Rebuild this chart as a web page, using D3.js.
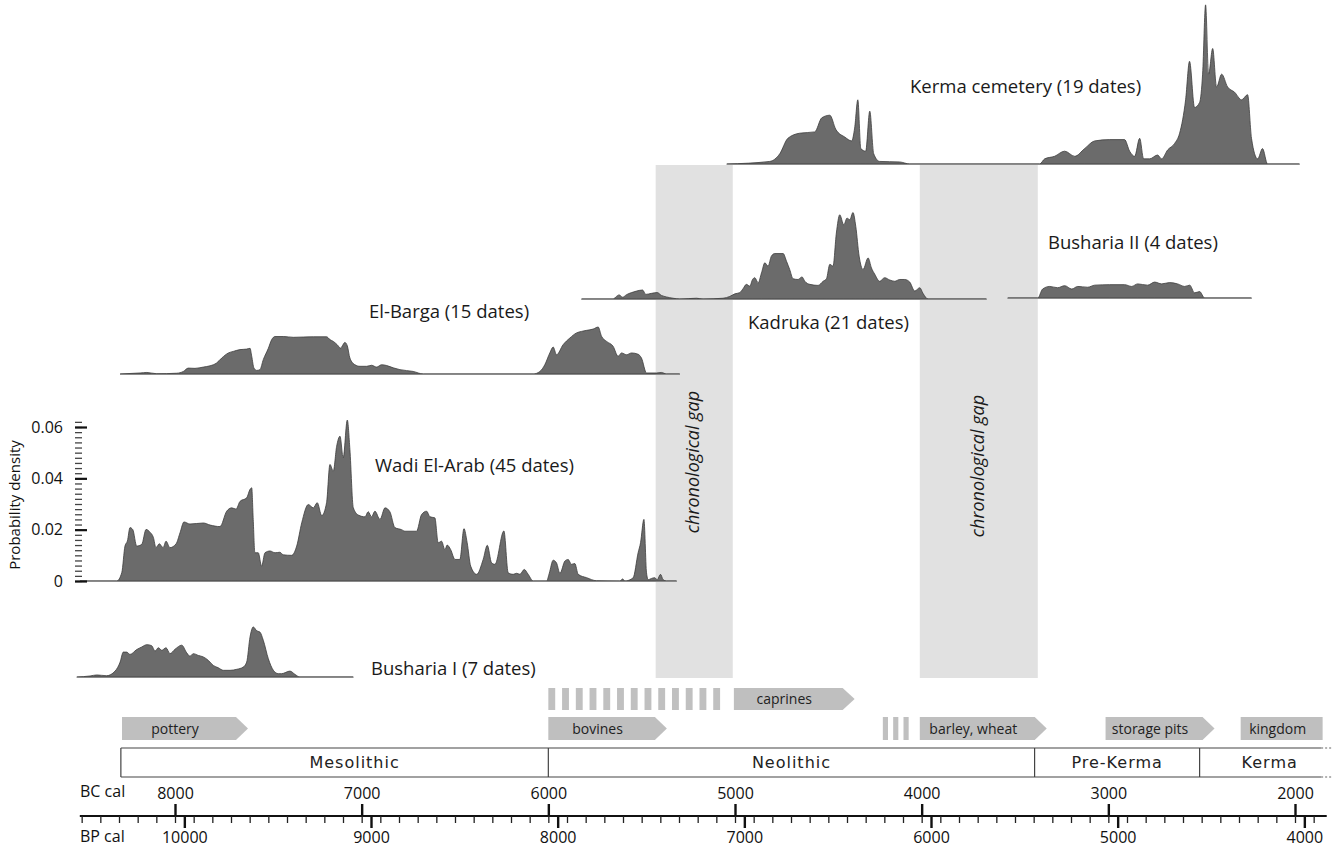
<!DOCTYPE html>
<html>
<head>
<meta charset="utf-8">
<script src="https://cdn.jsdelivr.net/npm/d3@7"></script>
<style>
  body { margin: 0; background: #fff; }
  svg { display: block; font-family: 'Open Sans', sans-serif; }
</style>
</head>
<body>
<div id="visual"></div>
<script>
// summed probability curves, [year BC cal, probability density]
const kermaCemetery = [
  [5044, 0], [4814, 0.001], [4760, 0.004], [4717, 0.01], [4653, 0.012], [4573, 0.0125],
  [4535, 0.018], [4492, 0.019], [4460, 0.0135], [4412, 0.0105], [4375, 0.009], [4359, 0.014],
  [4342, 0.025], [4326, 0.006], [4300, 0.005], [4278, 0.0206], [4257, 0.004], [4225, 0.001],
  [4118, 0.0008], [4064, 0], [3368, 0], [3341, 0.002], [3288, 0.003], [3234, 0.005],
  [3180, 0.003], [3127, 0.006], [3073, 0.009], [2993, 0.0095], [2913, 0.0095], [2886, 0.005],
  [2859, 0.003], [2832, 0.01], [2811, 0.002], [2779, 0.002], [2736, 0.0035], [2715, 0.002],
  [2682, 0.0055], [2645, 0.008], [2618, 0.012], [2586, 0.025], [2565, 0.04], [2538, 0.022],
  [2511, 0.024], [2495, 0.035], [2479, 0.062], [2463, 0.035], [2441, 0.045], [2420, 0.03],
  [2393, 0.035], [2361, 0.03], [2324, 0.028], [2286, 0.025], [2254, 0.027], [2233, 0.01],
  [2200, 0.002], [2174, 0.006], [2147, 0], [1976, 0],
];

const kadruka = [
  [5822, 0], [5653, 0], [5635, 0.001], [5621, 0.0016], [5602, 0.0007], [5581, 0.0017],
  [5554, 0.0025], [5527, 0.0031], [5495, 0.0035], [5478, 0.0018], [5447, 0.0022], [5417, 0.0025],
  [5394, 0.0014], [5367, 0.0008], [5332, 0.0003], [5296, 0], [5206, 0.0003], [5171, 0],
  [5064, 0.0003], [5028, 0.001], [5001, 0.002], [4974, 0.0025], [4957, 0.004], [4939, 0.0057],
  [4921, 0.005], [4906, 0.0076], [4894, 0.0083], [4876, 0.0063], [4858, 0.0102], [4840, 0.0141],
  [4823, 0.0128], [4805, 0.0167], [4787, 0.0177], [4742, 0.0177], [4724, 0.0147], [4707, 0.0115],
  [4689, 0.0079], [4662, 0.0076], [4641, 0.0086], [4626, 0.0069], [4599, 0.0057], [4555, 0.0053],
  [4528, 0.0069], [4510, 0.0079], [4492, 0.0135], [4475, 0.0128], [4457, 0.0257], [4439, 0.0328],
  [4417, 0.0289], [4400, 0.0315], [4385, 0.0309], [4368, 0.0337], [4353, 0.0283], [4335, 0.0167],
  [4314, 0.0115], [4287, 0.016], [4269, 0.0121], [4251, 0.0096], [4225, 0.0069], [4198, 0.0083],
  [4171, 0.0074], [4144, 0.0069], [4118, 0.0076], [4091, 0.0076], [4064, 0.0066], [4037, 0.0031],
  [4010, 0.0044], [3993, 0.0022], [3966, 0], [3653, 0],
];

const bushariaII = [
  [3539, 0], [3378, 0], [3352, 0.0035], [3314, 0.0045], [3272, 0.004], [3234, 0.0048],
  [3196, 0.0035], [3164, 0.0045], [3111, 0.0042], [3073, 0.005], [2993, 0.0052], [2913, 0.0052],
  [2875, 0.0045], [2843, 0.0055], [2789, 0.005], [2752, 0.0062], [2714, 0.0055], [2672, 0.006],
  [2629, 0.0055], [2591, 0.0045], [2564, 0.005], [2538, 0.002], [2511, 0.0025], [2484, 0],
  [2233, 0],
];

const elBarga = [
  [8294, 0], [8187, 0.0004], [8151, 0.0006], [8098, 0.0001], [7991, 0.0003], [7955, 0.001],
  [7929, 0.0023], [7893, 0.0022], [7848, 0.0027], [7812, 0.0032], [7777, 0.0043], [7750, 0.0062],
  [7714, 0.0082], [7688, 0.0088], [7652, 0.0095], [7616, 0.0097], [7598, 0.01], [7589, 0.0069],
  [7577, 0.0023], [7562, 0.0014], [7545, 0.0017], [7527, 0.0056], [7500, 0.01], [7482, 0.0134],
  [7464, 0.0146], [7420, 0.0146], [7366, 0.0143], [7313, 0.0144], [7259, 0.0145], [7188, 0.0145],
  [7170, 0.0134], [7152, 0.0127], [7131, 0.0114], [7113, 0.0101], [7090, 0.0123], [7077, 0.011],
  [7063, 0.0062], [7036, 0.0036], [7009, 0.003], [6973, 0.003], [6947, 0.0034], [6920, 0.0027],
  [6893, 0.0036], [6866, 0.0033], [6831, 0.0024], [6795, 0.0017], [6724, 0.001], [6670, 0],
  [6081, 0], [6045, 0.001], [6019, 0.0036], [5992, 0.0082], [5974, 0.0105], [5956, 0.0075],
  [5921, 0.0114], [5885, 0.014], [5849, 0.016], [5822, 0.0166], [5795, 0.017], [5760, 0.0175],
  [5733, 0.0183], [5715, 0.0147], [5688, 0.0127], [5653, 0.0108], [5626, 0.0069], [5608, 0.0082],
  [5581, 0.0075], [5554, 0.0082], [5519, 0.0077], [5501, 0.0062], [5474, 0.0004], [5420, 0.0004],
  [5394, 0.0006], [5367, 0], [5296, 0],
];

const wadiElArab = [
  [8509, 0], [8312, 0], [8285, 0.0033], [8268, 0.0136], [8255, 0.0156], [8241, 0.0208],
  [8226, 0.02], [8205, 0.0136], [8178, 0.0143], [8155, 0.0201], [8134, 0.019], [8116, 0.017],
  [8102, 0.013], [8084, 0.0145], [8064, 0.013], [8048, 0.0155], [8027, 0.013], [7994, 0.0145],
  [7973, 0.0188], [7952, 0.023], [7920, 0.0222], [7848, 0.0226], [7812, 0.0218], [7759, 0.0212],
  [7723, 0.0272], [7696, 0.0285], [7673, 0.028], [7652, 0.031], [7616, 0.0324], [7598, 0.0357],
  [7589, 0.0363], [7581, 0.024], [7572, 0.011], [7554, 0.011], [7536, 0.0058], [7518, 0.011],
  [7491, 0.0117], [7464, 0.011], [7438, 0.0112], [7420, 0.0102], [7375, 0.01], [7348, 0.0136],
  [7321, 0.0227], [7286, 0.0298], [7259, 0.0285], [7238, 0.0305], [7214, 0.0255], [7188, 0.0305],
  [7170, 0.0454], [7152, 0.0428], [7134, 0.0525], [7116, 0.0564], [7099, 0.048], [7077, 0.0627],
  [7063, 0.0512], [7045, 0.0286], [7018, 0.0257], [6982, 0.025], [6965, 0.027], [6947, 0.025],
  [6929, 0.0272], [6902, 0.024], [6875, 0.0285], [6849, 0.027], [6822, 0.0208], [6786, 0.02],
  [6768, 0.0194], [6706, 0.0194], [6679, 0.0259], [6652, 0.0272], [6634, 0.025], [6608, 0.0246],
  [6590, 0.0149], [6572, 0.0155], [6554, 0.0122], [6542, 0.014], [6523, 0.0122], [6500, 0.0084],
  [6474, 0.0084], [6452, 0.0204], [6435, 0.015], [6416, 0.0058], [6384, 0.0026], [6349, 0.0084],
  [6327, 0.0139], [6304, 0.0071], [6286, 0.0065], [6238, 0.0195], [6215, 0.0032], [6188, 0.0026],
  [6170, 0.003], [6152, 0.0026], [6129, 0.0045], [6108, 0.0026], [6081, 0], [6009, 0],
  [5995, 0.003], [5974, 0.0081], [5956, 0.007], [5938, 0.003], [5911, 0.0078], [5894, 0.0084],
  [5876, 0.0065], [5858, 0.0068], [5840, 0.0026], [5795, 0.0013], [5742, 0.0001], [5617, 0],
  [5602, 0.0008], [5590, 0], [5546, 0.0012], [5519, 0.011], [5506, 0.0149], [5488, 0.024],
  [5474, 0.0032], [5465, 0.0005], [5447, 0.001], [5430, 0.0013], [5417, 0.0005], [5399, 0.0026],
  [5385, 0.0005], [5367, 0], [5313, 0],
];

const bushariaI = [
  [8526, 0], [8455, 0.0004], [8419, 0.0008], [8366, 0.0005], [8321, 0.0023], [8294, 0.0058],
  [8277, 0.0097], [8259, 0.0097], [8241, 0.0088], [8205, 0.0107], [8178, 0.0117], [8151, 0.0126],
  [8125, 0.0122], [8107, 0.0101], [8089, 0.0114], [8071, 0.0104], [8048, 0.0114], [8027, 0.0091],
  [8000, 0.0108], [7964, 0.0124], [7937, 0.0094], [7920, 0.0081], [7902, 0.0091], [7875, 0.0084],
  [7848, 0.0078], [7822, 0.0065], [7795, 0.0045], [7768, 0.0036], [7741, 0.0026], [7705, 0.0026],
  [7669, 0.003], [7634, 0.0039], [7616, 0.0058], [7598, 0.0156], [7581, 0.0195], [7562, 0.018],
  [7545, 0.0175], [7527, 0.0143], [7500, 0.0071], [7473, 0.0026], [7447, 0.0013], [7429, 0.0013],
  [7384, 0.0023], [7357, 0.001], [7331, 0], [7045, 0],
];

// chronological gaps [from, to] BC
const gapSpans = [[5425, 5012], [4010, 3378]];

// periods
const periodNames = ['Mesolithic', 'Neolithic', 'Pre-Kerma', 'Kerma'];
const periodBounds = [8290, 6000, 3395, 2511, 1760];

// economy arrows: name, from, to, row
const arrowNames = ['pottery', 'bovines', 'caprines', 'barley, wheat', 'storage pits', 'kingdom'];
const arrowFrom = [8284, 6000, 5006, 4010, 3015, 2291];
const arrowTo = [7609, 5365, 4359, 3330, 2431, 1852];
const arrowRow = [1, 1, 0, 1, 1, 1];
// hatched (uncertain) lead-ins: from, to, row, count
const hatchFrom = [6000, 4208];
const hatchTo = [5043, 4042];
const hatchRow = [0, 1];
const hatchCount = [13, 3];

const bcTicks = [8000, 7000, 6000, 5000, 4000, 3000, 2000];
const bpTicks = [10000, 9000, 8000, 7000, 6000, 5000, 4000];
const densTicks = [0, 0.02, 0.04, 0.06];

function render() {
  const width = 1332;
  const height = 847;

  const svg = d3.select('#visual').append('svg')
    .attr('width', width)
    .attr('height', height);

  const x = d3.scaleLinear().domain([8000, 2000]).range([175, 1295]);
  // BP scale as drawn in the original (offset against BC)
  const xBP = d3.scaleLinear().domain([10050, 4050]).range([175, 1295]);
  const dens = d3.scaleLinear().domain([0, 0.06]).range([0, 154]);

  // gap bands behind everything
  svg.selectAll('.gap')
    .data(gapSpans)
    .enter().append('rect')
    .attr('class', 'gap')
    .attr('x', d => x(d[0]))
    .attr('width', d => x(d[1]) - x(d[0]))
    .attr('y', 165)
    .attr('height', 513)
    .attr('fill', '#e1e1e1');

  svg.selectAll('.gaplabel')
    .data(gapSpans)
    .enter().append('text')
    .attr('transform', (d, i) => `translate(${(x(d[0]) + x(d[1])) / 2 + 5},${i === 0 ? 462 : 466}) rotate(-90)`)
    .attr('text-anchor', 'middle')
    .attr('font-size', 18)
    .attr('font-style', 'italic')
    .attr('fill', '#1a1a1a')
    .text('chronological gap');

  const tracks = [
    { data: kermaCemetery, base: 164, label: 'Kerma cemetery (19 dates)', lx: 910, ly: 93 },
    { data: kadruka, base: 299, label: 'Kadruka (21 dates)', lx: 748, ly: 329 },
    { data: bushariaII, base: 298, label: 'Busharia II (4 dates)', lx: 1048, ly: 249 },
    { data: elBarga, base: 374, label: 'El-Barga (15 dates)', lx: 369, ly: 318 },
    { data: wadiElArab, base: 581, label: 'Wadi El-Arab (45 dates)', lx: 375, ly: 472 },
    { data: bushariaI, base: 677, label: 'Busharia I (7 dates)', lx: 371, ly: 675 },
  ];

  tracks.forEach((t) => {
    const area = d3.area()
      .x(d => x(d[0]))
      .y0(t.base)
      .y1(d => t.base - dens(d[1]))
      .curve(d3.curveMonotoneX);

    svg.append('path')
      .datum(t.data)
      .attr('d', area)
      .attr('fill', '#6b6b6b')
      .attr('stroke', '#3c3c3c')
      .attr('stroke-width', 0.8);

    svg.append('line')
      .attr('x1', x(t.data[0][0]))
      .attr('x2', x(t.data[t.data.length - 1][0]))
      .attr('y1', t.base + 0.5)
      .attr('y2', t.base + 0.5)
      .attr('stroke', '#8a8a8a')
      .attr('stroke-width', 1);

    svg.append('text')
      .attr('x', t.lx)
      .attr('y', t.ly)
      .attr('font-size', 18.5)
      .attr('fill', '#1a1a1a')
      .text(t.label);
  });

  // density axis
  const yAxisScale = d3.scaleLinear().domain([0, 0.06]).range([581, 427]);
  svg.append('g')
    .attr('transform', 'translate(82,0)')
    .call(d3.axisLeft(yAxisScale).tickValues(d3.range(0, 0.0621, 0.002)).tickSize(7).tickFormat(''))
    .call(g => g.select('.domain').remove())
    .call(g => g.selectAll('line').attr('stroke', '#444').attr('stroke-width', 1.3));

  svg.append('g')
    .attr('transform', 'translate(87,0)')
    .call(d3.axisLeft(yAxisScale).tickValues(densTicks).tickSize(12).tickPadding(12)
      .tickFormat(d => (d === 0 ? '0' : d3.format('.2f')(d))))
    .call(g => g.select('.domain').remove())
    .call(g => g.selectAll('line').attr('stroke', '#111').attr('stroke-width', 2.2))
    .call(g => g.selectAll('text').attr('font-size', 16).attr('font-family', 'Open Sans').attr('fill', '#111'));

  svg.append('text')
    .attr('transform', 'translate(20,505) rotate(-90)')
    .attr('text-anchor', 'middle')
    .attr('font-size', 15)
    .attr('fill', '#111')
    .text('Probability density');

  // hatched lead-ins
  const rowY = [688, 717];
  const rowH = [22, 23];
  hatchFrom.forEach((h, i) => {
    const x0 = x(h);
    const x1 = x(hatchTo[i]);
    const step = (x1 - x0) / hatchCount[i];
    svg.selectAll(null)
      .data(d3.range(hatchCount[i]))
      .enter().append('rect')
      .attr('x', k => x0 + k * step)
      .attr('width', step * 0.5)
      .attr('y', rowY[hatchRow[i]])
      .attr('height', rowH[hatchRow[i]])
      .attr('fill', '#c0c0c0');
  });

  // arrows
  arrowNames.forEach((name, i) => {
    const x0 = x(arrowFrom[i]);
    const x1 = x(arrowTo[i]);
    const y0 = rowY[arrowRow[i]];
    const y1 = y0 + rowH[arrowRow[i]];
    const tip = name === 'kingdom' ? 0 : 12;
    const pts = [[x0, y0], [x1 - tip, y0], [x1, (y0 + y1) / 2], [x1 - tip, y1], [x0, y1]];
    svg.append('polygon')
      .attr('points', pts.map(p => p.join(',')).join(' '))
      .attr('fill', '#bfbfbf');
    svg.append('text')
      .attr('x', (x0 + x1 - tip) / 2 - 4)
      .attr('y', (y0 + y1) / 2 + 5)
      .attr('text-anchor', 'middle')
      .attr('font-size', 14)
      .attr('font-family', "'Liberation Sans Narrow', 'Open Sans', sans-serif")
      .attr('fill', '#222')
      .text(name);
  });

  // period box
  const boxTop = 748;
  const boxBottom = 777;
  const solidEnd = x(1860);
  [boxTop, boxBottom].forEach((yy) => {
    svg.append('line')
      .attr('x1', x(periodBounds[0])).attr('x2', solidEnd)
      .attr('y1', yy).attr('y2', yy)
      .attr('stroke', '#444').attr('stroke-width', 1.2);
    svg.append('line')
      .attr('x1', solidEnd).attr('x2', x(1760))
      .attr('y1', yy).attr('y2', yy)
      .attr('stroke', '#666').attr('stroke-width', 1.2)
      .attr('stroke-dasharray', '2,2');
  });
  periodBounds.slice(0, 4).forEach((b) => {
    svg.append('line')
      .attr('x1', x(b)).attr('x2', x(b))
      .attr('y1', boxTop).attr('y2', boxBottom)
      .attr('stroke', '#444').attr('stroke-width', 1.2);
  });
  periodNames.forEach((name, i) => {
    svg.append('text')
      .attr('x', (x(periodBounds[i]) + x(periodBounds[i + 1])) / 2 + (i === 0 ? 20 : 0))
      .attr('y', 768)
      .attr('text-anchor', 'middle')
      .attr('font-size', 16)
      .attr('font-family', 'DejaVu Sans')
      .attr('letter-spacing', 1)
      .attr('fill', '#222')
      .text(name);
  });

  // time axis
  const axisY = 816;
  svg.append('line')
    .attr('x1', x(8510)).attr('x2', x(1830))
    .attr('y1', axisY).attr('y2', axisY)
    .attr('stroke', '#111').attr('stroke-width', 2);

  svg.append('g')
    .attr('transform', `translate(0,${axisY})`)
    .call(d3.axisBottom(x).tickValues(d3.range(8500, 1799, -100)).tickSize(7).tickFormat(''))
    .call(g => g.select('.domain').remove())
    .call(g => g.selectAll('line').attr('stroke', '#222').attr('stroke-width', 1.3));

  svg.append('g')
    .attr('transform', `translate(0,${axisY})`)
    .call(d3.axisTop(x).tickValues(bcTicks).tickSize(12).tickPadding(5).tickFormat(d3.format('d')))
    .call(g => g.select('.domain').remove())
    .call(g => g.selectAll('line').attr('stroke', '#111').attr('stroke-width', 2.4))
    .call(g => g.selectAll('text').attr('font-size', 16).attr('font-family', 'Open Sans').attr('fill', '#111'));

  svg.append('g')
    .attr('transform', `translate(0,${axisY})`)
    .call(d3.axisBottom(xBP).tickValues(bpTicks).tickSize(12).tickPadding(4).tickFormat(d3.format('d')))
    .call(g => g.select('.domain').remove())
    .call(g => g.selectAll('line').attr('stroke', '#111').attr('stroke-width', 2.4))
    .call(g => g.selectAll('text').attr('font-size', 16).attr('font-family', 'Open Sans').attr('fill', '#111'));

  svg.append('text')
    .attr('x', 80).attr('y', 797)
    .attr('font-size', 16).attr('fill', '#111')
    .text('BC cal');
  svg.append('text')
    .attr('x', 80).attr('y', 842)
    .attr('font-size', 16).attr('fill', '#111')
    .text('BP cal');
}

render();
</script>
</body>
</html>
